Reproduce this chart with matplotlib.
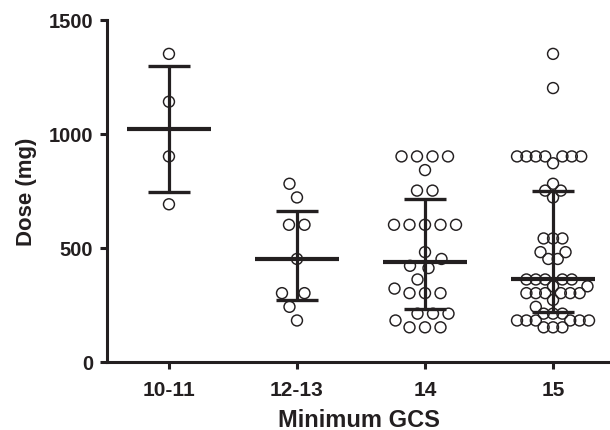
import numpy as np
import matplotlib.pyplot as plt

plt.rcParams['font.family'] = ['Liberation Sans', 'DejaVu Sans']

# data (mg per patient, by minimum GCS group)
groups = ['10-11', '12-13', '14', '15']
dose_10_11 = [1350, 1140, 900, 690]
dose_12_13 = [780, 720, 600, 600, 450, 300, 300, 240, 180]
dose_14 = [900, 900, 900, 900, 840, 750, 750, 600, 600, 600, 600, 600,
           480, 450, 420, 410, 360, 320, 300, 300, 300, 210, 210, 210,
           180, 150, 150, 150]
dose_15 = [1350, 1200, 900, 900, 900, 900, 900, 900, 900, 870, 780, 750,
           750, 720, 540, 540, 540, 480, 480, 450, 450, 360, 360, 360,
           360, 360, 330, 330, 300, 300, 300, 300, 300, 300, 270, 240,
           210, 210, 210, 180, 180, 180, 180, 180, 180, 150, 150, 150]
all_doses = [dose_10_11, dose_12_13, dose_14, dose_15]

ink = '#231f20'

fig = plt.figure(figsize=(6.10, 4.31), dpi=100)
ax = fig.add_axes([107 / 610, 68.5 / 431, 503 / 610, 341.8 / 431])
ax.set_xlim(-0.484, 3.445)
ax.set_ylim(0, 1500)

# pixel scale of the axes, used to spread the points like a swarm
p0, p1 = ax.transData.transform([(0, 0), (1, 1)])
px_x, px_y = p1 - p0


def swarm(vals, d_max=15.5, half_w=36.0):
    vals = np.asarray(vals, float)
    uniq, counts = np.unique(vals, return_counts=True)
    d = min(d_max, 2 * half_w / max(counts.max() - 1, 1))
    grid = np.arange(-90, 90.01, 0.5)
    xs = np.zeros(len(vals))
    placed_x, placed_y = [], []
    for u, k in zip(uniq, counts):
        idx = np.where(vals == u)[0]
        targets = (np.arange(k) - (k - 1) / 2) * d
        for j in np.argsort(np.abs(targets), kind='stable'):
            y = u * px_y
            ok = np.ones(len(grid), bool)
            for xp, yp in zip(placed_x, placed_y):
                ok &= (grid - xp) ** 2 + (y - yp) ** 2 >= d * d - 1e-6
            cand = grid[ok]
            c = cand[np.argmin(np.abs(cand - targets[j]))]
            xs[idx[j]] = c
            placed_x.append(c)
            placed_y.append(y)
    m = np.abs(xs).max()
    if m > half_w:
        xs *= half_w / m
    return xs / px_x


for i, vals in enumerate(all_doses):
    xo = swarm(vals)
    ax.scatter(i + xo, vals, s=62, facecolors='none', edgecolors=ink,
               linewidths=1.05, zorder=2, clip_on=False)
    q1, med, q3 = np.percentile(vals, [25, 50, 75], method='weibull')
    ax.vlines(i, q1, q3, color=ink, lw=2.3, zorder=3)
    ax.hlines([q1, q3], i - 0.163, i + 0.163, color=ink, lw=2.4, zorder=3)
    ax.hlines(med, i - 0.33, i + 0.33, color=ink, lw=3.0, zorder=3)

ax.set_xticks(range(len(groups)), groups)
ax.set_yticks([0, 500, 1000, 1500])
for sp in ['top', 'right']:
    ax.spines[sp].set_visible(False)
for sp in ['left', 'bottom']:
    ax.spines[sp].set_linewidth(2.2)
    ax.spines[sp].set_color(ink)
ax.tick_params(axis='both', width=2.2, length=5, color=ink, labelcolor=ink)
ax.tick_params(axis='x', pad=8, labelsize=15)
ax.tick_params(axis='y', pad=5, labelsize=14.5)
for lab in ax.get_xticklabels() + ax.get_yticklabels():
    lab.set_fontweight('bold')

ax.set_xlabel('Minimum GCS', fontsize=17, fontweight='bold', color=ink,
              labelpad=7)
ax.set_ylabel('Dose (mg)', fontsize=16, fontweight='bold', color=ink,
              labelpad=8)

fig.savefig('out.png', dpi=100)
